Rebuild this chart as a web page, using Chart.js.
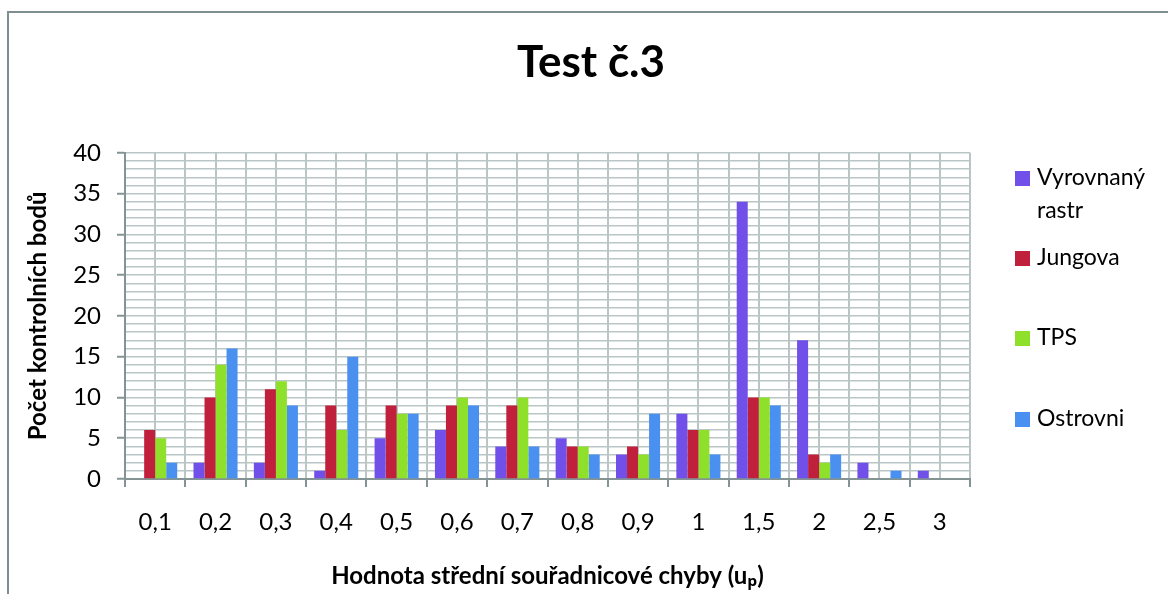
<!DOCTYPE html>
<html>
<head>
<meta charset="UTF-8">
<title>Test č.3</title>
<script src="https://cdn.jsdelivr.net/npm/chart.js"></script>
<style>
    html, body { margin: 0; padding: 0; background: #fff; }
    #wrap { position: relative; width: 1168px; height: 594px; }
</style>
</head>
<body>
<div id="wrap"><canvas id="chart"></canvas></div>
<script>
    // data
    const categories = ['0,1', '0,2', '0,3', '0,4', '0,5', '0,6', '0,7', '0,8', '0,9', '1', '1,5', '2', '2,5', '3'];
    const vyrovnany = [0, 2, 2, 1, 5, 6, 4, 5, 3, 8, 34, 17, 2, 1];
    const jungova   = [6, 10, 11, 9, 9, 9, 9, 4, 4, 6, 10, 3, 0, 0];
    const tps       = [5, 14, 12, 6, 8, 10, 10, 4, 3, 6, 10, 2, 0, 0];
    const ostrovni  = [2, 16, 9, 15, 8, 9, 4, 3, 8, 3, 9, 3, 1, 0];
    const seriesNames = ['Vyrovnaný rastr', 'Jungova', 'TPS', 'Ostrovni'];

    const FONT = 'Lato, "Open Sans", sans-serif';
    const gridColor = '#bac6c6';
    const axisColor = '#849494';
    const colors = ['#7050e8', '#c0203c', '#8ee02a', '#4a90f0'];

    // outer frame (left + top only, like the cropped original)
    const framePlugin = {
        id: 'frame',
        beforeDraw(chart) {
            const c = chart.ctx;
            c.save();
            c.strokeStyle = '#7f8f8f';
            c.lineWidth = 2;
            c.beginPath();
            c.moveTo(8, chart.height);
            c.lineTo(8, 12);
            c.lineTo(chart.width, 12);
            c.stroke();
            c.restore();
        }
    };

    // legend on the right with wrapped labels
    const sideLegend = {
        id: 'sideLegend',
        afterDraw(chart) {
            const c = chart.ctx;
            const x0 = chart.chartArea.right + 45;
            const rowY = [178, 258, 338, 419];
            c.save();
            c.font = '23px ' + FONT;
            c.textBaseline = 'middle';
            c.textAlign = 'left';
            chart.data.datasets.forEach((ds, i) => {
                const y = rowY[i];
                c.fillStyle = ds.backgroundColor;
                c.fillRect(x0, y - 7, 15, 15);
                c.fillStyle = '#000';
                // simple word wrap
                const words = ds.label.split(' ');
                let lines = [], line = '';
                words.forEach(w => {
                    const t = line ? line + ' ' + w : w;
                    if (line && c.measureText(t).width > 125) { lines.push(line); line = w; }
                    else line = t;
                });
                lines.push(line);
                lines.forEach((l, k) => c.fillText(l, x0 + 22, y + k * 33));
            });
            c.restore();
        }
    };

    const ctx = document.getElementById('chart').getContext('2d');
    const chart = new Chart(ctx, {
        type: 'bar',
        data: {
            labels: categories,
            datasets: [
                { label: seriesNames[0], data: vyrovnany, backgroundColor: colors[0] },
                { label: seriesNames[1], data: jungova, backgroundColor: colors[1] },
                { label: seriesNames[2], data: tps, backgroundColor: colors[2] },
                { label: seriesNames[3], data: ostrovni, backgroundColor: colors[3] }
            ]
        },
        options: {
            responsive: true,
            maintainAspectRatio: false,
            animation: false,
            datasets: { bar: { categoryPercentage: 0.73, barPercentage: 1.0 } },
            layout: { padding: { left: 14, right: 0, top: 0, bottom: 0 } },
            plugins: {
                legend: { display: false },
                tooltip: { enabled: false },
                title: {
                    display: true,
                    text: 'Test č.3',
                    color: '#000',
                    font: { family: FONT, size: 44, weight: 'bold' },
                    padding: { top: 36, bottom: 64 }
                }
            },
            scales: {
                x: {
                    offset: true,
                    grid: { offset: true, color: gridColor, lineWidth: 2, tickColor: axisColor, tickLength: 8, tickWidth: 2 },
                    border: { color: axisColor, width: 2 },
                    ticks: { color: '#000', font: { family: FONT, size: 24 }, padding: 21, maxRotation: 0 },
                    title: {
                        display: true,
                        text: 'Hodnota střední souřadnicové chyby (uₚ)',
                        color: '#000',
                        font: { family: FONT, size: 24, weight: 'bold' },
                        padding: { top: 0, bottom: 3 }
                    },
                    afterFit(s) { s.height = 115; }
                },
                x2: {
                    type: 'category',
                    labels: categories,
                    position: 'bottom',
                    offset: true,
                    grid: { offset: false, color: gridColor, lineWidth: 2, drawTicks: false },
                    border: { display: false },
                    ticks: { display: false },
                    afterFit(s) { s.height = 0; }
                },
                y: {
                    min: 0,
                    max: 40,
                    grid: {
                        color: gridColor,
                        lineWidth: 1.5,
                        tickLength: 8,
                        tickWidth: 2,
                        tickColor: c => (c.tick && c.tick.value % 5 === 0) ? axisColor : 'rgba(0,0,0,0)'
                    },
                    border: { color: axisColor, width: 2 },
                    ticks: {
                        stepSize: 1,
                        autoSkip: false,
                        color: '#000',
                        padding: 16,
                        font: { family: FONT, size: 24 },
                        callback: v => (v % 5 === 0 ? String(v) : '')
                    },
                    title: {
                        display: true,
                        text: 'Počet kontrolních bodů',
                        color: '#000',
                        font: { family: FONT, size: 24, weight: 'bold' },
                        padding: { top: 10, bottom: 0 }
                    },
                    afterFit(s) { s.width = 111; }
                },
                // empty right-hand box that keeps room for the legend
                yLegend: {
                    position: 'right',
                    grid: { display: false },
                    border: { display: false },
                    ticks: { display: false },
                    afterFit(s) { s.width = 198; }
                }
            }
        },
        plugins: [framePlugin, sideLegend]
    });
</script>
</body>
</html>
